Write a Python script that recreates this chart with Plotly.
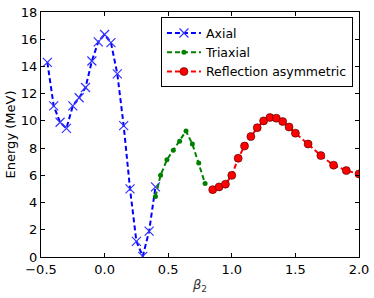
import plotly.graph_objects as go

axial_beta = [-0.45, -0.40, -0.35, -0.30, -0.25, -0.20, -0.15, -0.10, -0.05, 0.00,
              0.05, 0.10, 0.15, 0.20, 0.25, 0.30, 0.35, 0.40]
axial_energy = [14.3, 11.1, 9.9, 9.45, 11.1, 11.7, 12.45, 14.4, 15.8, 16.35,
                15.75, 13.45, 9.65, 5.0, 1.15, 0.05, 1.9, 5.15]

triaxial_beta = [0.40, 0.44, 0.49, 0.54, 0.59, 0.64, 0.69, 0.74, 0.79]
triaxial_energy = [4.45, 6.0, 7.15, 7.85, 8.5, 9.25, 8.3, 6.9, 5.4]

refl_beta = [0.85, 0.90, 0.95, 1.00, 1.05, 1.10, 1.15, 1.20, 1.25, 1.30, 1.35,
             1.40, 1.45, 1.50, 1.60, 1.70, 1.80, 1.90, 2.00]
refl_energy = [4.95, 5.15, 5.35, 6.0, 7.25, 8.15, 8.85, 9.5, 10.0, 10.25, 10.2,
               9.95, 9.55, 9.1, 8.3, 7.45, 6.75, 6.35, 6.1]

x_ticks = [-0.5, 0.0, 0.5, 1.0, 1.5, 2.0]
y_ticks = [0, 2, 4, 6, 8, 10, 12, 14, 16, 18]

font = "DejaVu Sans"
fig = go.Figure()
fig.add_trace(go.Scatter(
    x=axial_beta, y=axial_energy, name="Axial", mode="lines+markers",
    line=dict(color="#0000ff", width=2, dash="5px,3px"),
    marker=dict(symbol="x-thin", size=9, line=dict(color="#3333ff", width=1.2), color="#3333ff")))
fig.add_trace(go.Scatter(
    x=triaxial_beta, y=triaxial_energy, name="Triaxial", mode="lines+markers",
    line=dict(color="#008000", width=2, dash="5px,3px"),
    marker=dict(symbol="circle", size=5, color="#008000")))
fig.add_trace(go.Scatter(
    x=refl_beta, y=refl_energy, name="Reflection asymmetric", mode="lines+markers",
    line=dict(color="#ff0000", width=2, dash="5px,3px"),
    marker=dict(symbol="circle", size=8, color="#ff0000", line=dict(color="#400000", width=0.6))))

axis_common = dict(showgrid=False, zeroline=False, showline=True, linecolor="black", linewidth=1,
                   mirror="ticks", ticks="inside", ticklen=4, tickcolor="black", automargin=False,
                   tickfont=dict(family=font, size=13, color="black"))
fig.update_xaxes(range=[-0.5, 2.0], tickvals=x_ticks, tickformat=".1f",
                 title=dict(text="<i>β</i><sub>2</sub>", font=dict(family=font, size=13, color="#333"), standoff=4),
                 **axis_common)
fig.update_yaxes(range=[0, 18], tickvals=y_ticks,
                 title=dict(text="Energy (MeV)", font=dict(family=font, size=13, color="black"), standoff=2),
                 **axis_common)
fig.update_layout(
    width=374, height=298, margin=dict(l=41, r=15, t=12, b=41),
    plot_bgcolor="white", paper_bgcolor="white",
    legend=dict(x=0.981, y=0.978, xanchor="right", yanchor="top",
                bordercolor="black", borderwidth=1, bgcolor="white",
                font=dict(family=font, size=12.5, color="black"),
                tracegroupgap=0, itemwidth=34),
)
fig.write_html("out.html", config={"displayModeBar": False},
               post_script="document.body.style.margin='0';")
